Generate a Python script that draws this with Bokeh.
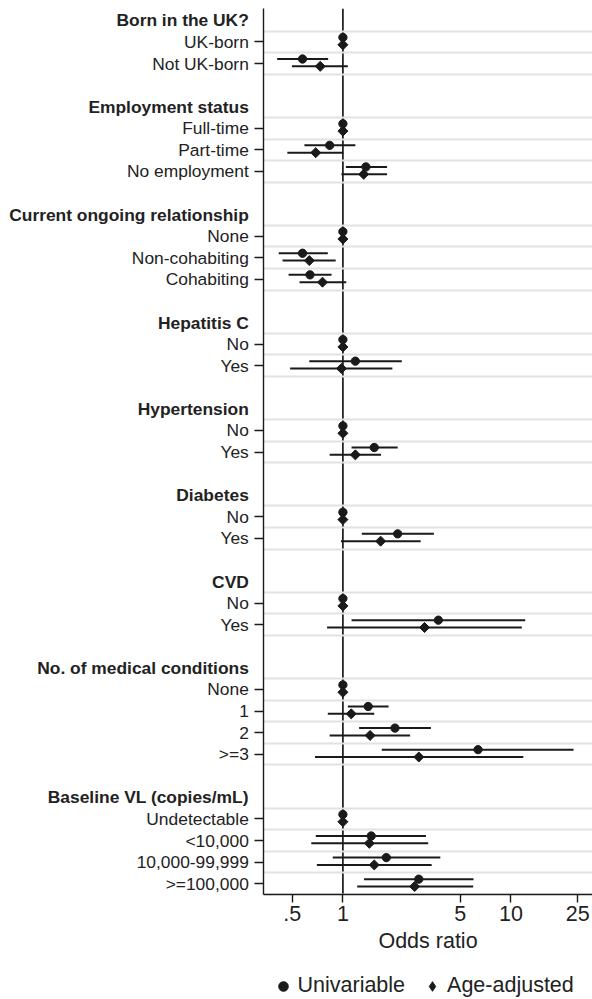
import math
from bokeh.plotting import figure
from bokeh.layouts import row, column
from bokeh.models import Range1d, FixedTicker, Span, Legend, LegendItem, ColumnDataSource
from bokeh.core.properties import value
from bokeh.embed import file_html
from bokeh.resources import INLINE

# ---------------- data ----------------
groups = ["Born in the UK?", "Employment status", "Current ongoing relationship",
          "Hepatitis C", "Hypertension", "Diabetes", "CVD",
          "No. of medical conditions", "Baseline VL (copies/mL)"]
items = [["UK-born", "Not UK-born"],
         ["Full-time", "Part-time", "No employment"],
         ["None", "Non-cohabiting", "Cohabiting"],
         ["No", "Yes"],
         ["No", "Yes"],
         ["No", "Yes"],
         ["No", "Yes"],
         ["None", "1", "2", ">=3"],
         ["Undetectable", "<10,000", "10,000-99,999", ">=100,000"]]

uni_or = [1, 0.575, 1, 0.834, 1.371, 1, 0.575, 0.637, 1, 1.186, 1, 1.537, 1, 2.118,
          1, 3.70, 1, 1.414, 2.042, 6.375, 1, 1.474, 1.813, 2.83]
uni_lo = [1, 0.406, 1, 0.590, 1.042, 1, 0.415, 0.475, 1, 0.631, 1, 1.126, 1, 1.296,
          1, 1.126, 1, 1.07, 1.249, 1.704, 1, 0.689, 0.87, 1.336]
uni_hi = [1, 0.817, 1, 1.186, 1.832, 1, 0.813, 0.856, 1, 2.242, 1, 2.118, 1, 3.48,
          1, 12.17, 1, 1.87, 3.34, 23.6, 1, 3.12, 3.80, 5.99]
adj_or = [1, 0.733, 1, 0.689, 1.329, 1, 0.631, 0.756, 1, 0.98, 1, 1.186, 1, 1.678,
          1, 3.06, 1, 1.121, 1.451, 2.83, 1, 1.436, 1.537, 2.673]
adj_lo = [1, 0.497, 1, 0.467, 0.98, 1, 0.437, 0.552, 1, 0.485, 1, 0.834, 1, 0.974,
          1, 0.805, 1, 0.813, 0.834, 0.682, 1, 0.648, 0.70, 1.217]
adj_hi = [1, 1.07, 1, 1.005, 1.832, 1, 0.906, 1.047, 1, 1.97, 1, 1.686, 1, 2.904,
          1, 11.62, 1, 1.537, 2.512, 11.86, 1, 3.22, 3.375, 5.96]

x_ticks = [0.5, 1, 5, 10, 25]
x_tick_labels = [".5", "1", "5", "10", "25"]

# ---------------- row positions ----------------
header_rows, item_rows, item_labels = [], [], []
r = 0
for g, its in zip(groups, items):
    header_rows.append(r)
    for k, lab in enumerate(its):
        item_rows.append(r + 1 + k)
        item_labels.append(lab)
    r += len(its) + 2
last = item_rows[-1]
boundaries = sorted(set([v - 0.5 for v in item_rows] + [v + 0.5 for v in item_rows]))

TXT = "#222222"
INK = "#1a1a1a"
FONT = "Liberation Sans"
TOTAL_W, TOTAL_H = 592, 999
FRAME_H = 886
TOP = 8
LW = 253            # label panel width
MAIN_BL = 10        # room for the y ticks
FRAME_W = TOTAL_W - LW - MAIN_BL
BB = 68
LEG_H = TOTAL_H - (TOP + FRAME_H + BB)

y_range = Range1d(last + 0.5, -0.55)


def clean(fig):
    fig.outline_line_color = None
    fig.xgrid.visible = False
    fig.ygrid.visible = False
    fig.background_fill_color = "white"
    fig.border_fill_color = "white"


# ---------------- label panel ----------------
lp = figure(width=LW, frame_height=FRAME_H, x_range=Range1d(0, LW), y_range=y_range,
            output_backend="svg", toolbar_location=None,
            x_axis_location=None, y_axis_location=None,
            min_border_left=0, min_border_right=0, min_border_top=TOP, min_border_bottom=BB)
clean(lp)
lab_src = ColumnDataSource(dict(x=[LW - 4.7] * len(item_rows), y=item_rows, t=item_labels))
hdr_src = ColumnDataSource(dict(x=[LW - 4.7] * len(header_rows), y=header_rows, t=groups))
lp.text(x="x", y="y", text="t", source=lab_src, text_align="right", text_baseline="middle",
        text_font=value(FONT), text_font_size="17.4px", text_color=TXT)
lp.text(x="x", y="y", text="t", source=hdr_src, text_align="right", text_baseline="middle",
        text_font=value(FONT), text_font_size="17.4px", text_font_style="bold", text_color=TXT)

# ---------------- main plot ----------------
p = figure(frame_width=FRAME_W, frame_height=FRAME_H, x_axis_type="log",
           x_range=Range1d(0.3368, 30.6), y_range=y_range,
           output_backend="svg", toolbar_location=None,
           min_border_left=MAIN_BL, min_border_right=0, min_border_top=TOP, min_border_bottom=BB)
clean(p)

p.hspan(y=boundaries, line_color="#e2e2e2", line_width=1.8)
p.add_layout(Span(location=1, dimension="height", line_color=INK, line_width=1.7, level="underlay"))

off_c, off_d = -0.21, 0.13
src_u = ColumnDataSource(dict(y=[v + off_c for v in item_rows], orv=uni_or, lo=uni_lo, hi=uni_hi))
src_a = ColumnDataSource(dict(y=[v + off_d for v in item_rows], orv=adj_or, lo=adj_lo, hi=adj_hi))

p.segment(x0="lo", x1="hi", y0="y", y1="y", source=src_u, line_color=INK, line_width=2)
p.segment(x0="lo", x1="hi", y0="y", y1="y", source=src_a, line_color=INK, line_width=2)
p.scatter(x="orv", y="y", source=src_u, marker="circle", size=8.3,
          fill_color=INK, line_color=INK)
p.scatter(x="orv", y="y", source=src_a, marker="square", angle=math.pi / 4, size=7.1,
          fill_color=INK, line_color=INK)

xa = p.xaxis[0]
xa.ticker = FixedTicker(ticks=x_ticks)
xa.major_label_overrides = {t: l for t, l in zip(x_ticks, x_tick_labels)}
xa.minor_tick_line_color = None
xa.major_tick_in = 0
xa.major_tick_out = 8
xa.major_tick_line_width = 1.4
xa.axis_line_width = 1.4
xa.axis_line_color = INK
xa.major_tick_line_color = INK
xa.major_label_text_font = FONT
xa.major_label_text_font_size = "21.5px"
xa.major_label_text_color = TXT
xa.major_label_standoff = 3
xa.axis_label = "Odds ratio"
xa.axis_label_text_font = FONT
xa.axis_label_text_font_size = "21.5px"
xa.axis_label_text_font_style = "normal"
xa.axis_label_text_color = TXT
xa.axis_label_standoff = 5

ya = p.yaxis[0]
ya.ticker = FixedTicker(ticks=item_rows)
ya.major_label_overrides = {t: "" for t in item_rows}
ya.major_label_text_font_size = "0px"
ya.major_label_standoff = 0
ya.minor_tick_line_color = None
ya.major_tick_in = 0
ya.major_tick_out = 9
ya.major_tick_line_width = 1.4
ya.axis_line_width = 1.4
ya.axis_line_color = INK
ya.major_tick_line_color = INK

# ---------------- legend strip ----------------
lf = figure(width=TOTAL_W, height=LEG_H, x_range=Range1d(0, TOTAL_W), y_range=Range1d(0, LEG_H),
            output_backend="svg", toolbar_location=None,
            x_axis_location=None, y_axis_location=None,
            min_border_left=0, min_border_right=0, min_border_top=0, min_border_bottom=0)
clean(lf)
k_u = lf.scatter(x=[float("nan")], y=[float("nan")], marker="circle", size=8,
                 fill_color=INK, line_color=INK)
k_a = lf.scatter(x=[float("nan")], y=[float("nan")], marker="diamond", size=10,
                 fill_color=INK, line_color=INK)
legend = Legend(items=[LegendItem(label="Univariable", renderers=[k_u]),
                       LegendItem(label="Age-adjusted", renderers=[k_a])],
                orientation="horizontal", location=(270.5, 1),
                label_text_font=FONT, label_text_font_size="21.5px", label_text_color=TXT,
                glyph_width=24, glyph_height=24, label_standoff=3, spacing=15,
                padding=0, margin=0, border_line_color=None, background_fill_alpha=0)
lf.add_layout(legend, "center")

layout = column(row(lp, p), lf)
open("out.html", "w").write(file_html(layout, INLINE))
